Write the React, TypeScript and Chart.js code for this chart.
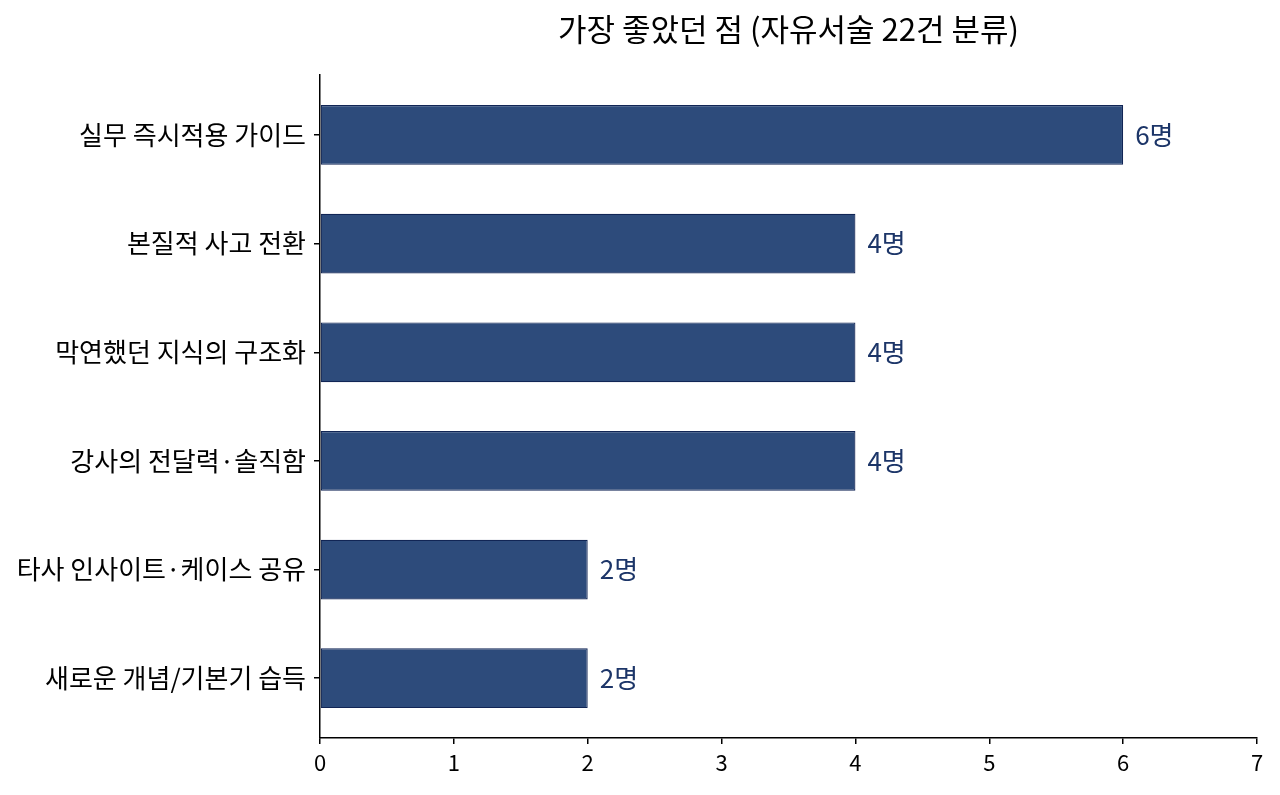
import { useEffect, useRef } from "react";
import { Chart, registerables, type Plugin } from "chart.js";

Chart.register(...registerables);

const categories = [
  "실무 즉시적용 가이드",
  "본질적 사고 전환",
  "막연했던 지식의 구조화",
  "강사의 전달력·솔직함",
  "타사 인사이트·케이스 공유",
  "새로운 개념/기본기 습득",
];
const counts = [6, 4, 4, 4, 2, 2];
const xTicks = [0, 1, 2, 3, 4, 5, 6, 7];
const unit = "명";

const FONT = '"Noto Sans CJK KR", "Noto Sans", sans-serif';

const valueLabels: Plugin<"bar"> = {
  id: "valueLabels",
  afterDatasetsDraw(chart) {
    const { ctx } = chart;
    const meta = chart.getDatasetMeta(0);
    ctx.save();
    ctx.font = `26px ${FONT}`;
    ctx.fillStyle = "#1c3568";
    ctx.textAlign = "left";
    ctx.textBaseline = "middle";
    meta.data.forEach((bar, i) => {
      const { x, y } = bar.getProps(["x", "y"], true);
      ctx.fillText(`${counts[i]}${unit}`, x + 12, y);
    });
    ctx.restore();
  },
};

export default function App() {
  const canvasRef = useRef<HTMLCanvasElement>(null);

  useEffect(() => {
    document.body.style.margin = "0";
    if (!canvasRef.current) return;

    const chart = new Chart(canvasRef.current, {
      type: "bar",
      data: {
        datasets: [
          {
            data: counts.map((v, i) => ({ x: v, y: i })),
            backgroundColor: "#2d4b7b",
            borderColor: "#112555",
            borderWidth: 1.2,
            borderSkipped: false,
            categoryPercentage: 0.55,
            barPercentage: 1,
          },
        ],
      },
      options: {
        indexAxis: "y",
        animation: false,
        responsive: true,
        maintainAspectRatio: false,
        layout: { padding: { left: 0, right: 23, top: 0, bottom: 0 } },
        plugins: {
          legend: { display: false },
          tooltip: { enabled: false },
          title: {
            display: true,
            text: "가장 좋았던 점 (자유서술 22건 분류)",
            color: "#000",
            font: { family: FONT, size: 31, weight: "normal" },
            padding: { top: 11, bottom: 27 },
            fullSize: false,
          },
        },
        scales: {
          x: {
            type: "linear",
            min: xTicks[0],
            max: xTicks[xTicks.length - 1],
            afterBuildTicks: (s) => {
              s.ticks = xTicks.map((value) => ({ value }));
            },
            afterFit: (s) => {
              s.height = 57;
            },
            ticks: {
              color: "#000",
              font: { family: FONT, size: 22 },
              padding: 5,
            },
            grid: {
              display: true,
              drawOnChartArea: false,
              drawTicks: true,
              tickLength: 6,
              color: "#000",
              lineWidth: 1.5,
            },
            border: { display: true, color: "#000", width: 1.5 },
          },
          y: {
            type: "linear",
            reverse: true,
            offset: false,
            min: -0.55,
            max: categories.length - 0.45,
            afterBuildTicks: (s) => {
              s.ticks = categories.map((_, value) => ({ value }));
            },
            afterFit: (s) => {
              s.width = 320;
            },
            ticks: {
              color: "#000",
              font: { family: FONT, size: 26 },
              padding: 8,
              callback: (v) => categories[Number(v)] ?? "",
            },
            grid: {
              display: true,
              offset: false,
              drawOnChartArea: false,
              drawTicks: true,
              tickLength: 6,
              color: "#000",
              lineWidth: 1.5,
            },
            border: { display: true, color: "#000", width: 1.5 },
          },
        },
      },
      plugins: [valueLabels],
    });

    return () => chart.destroy();
  }, []);

  return (
    <div style={{ width: 1280, height: 795, position: "relative", background: "#fff" }}>
      <canvas ref={canvasRef} />
    </div>
  );
}
